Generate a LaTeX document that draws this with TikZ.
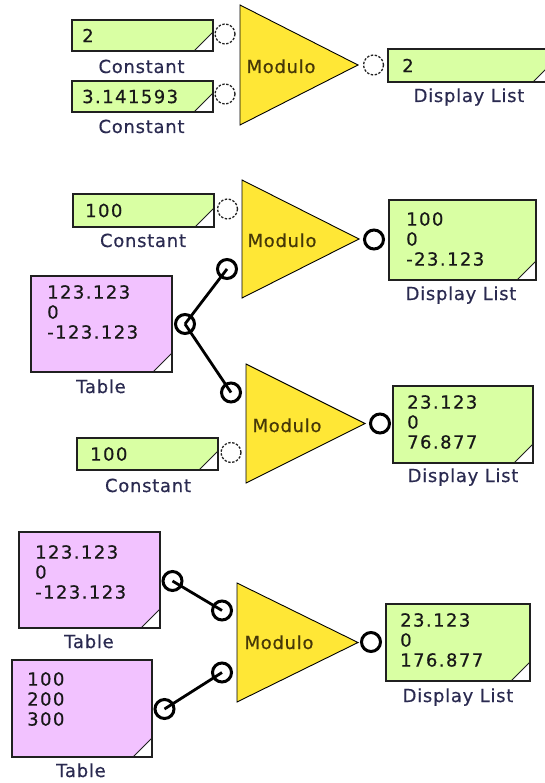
\documentclass[tikz,border=0pt]{standalone}
\usepackage{fontspec}
\setmainfont{DejaVu Sans}
\newfontfamily\lblfont[LetterSpace=4,FakeBold=0.5]{DejaVu Sans}
\newfontfamily\numfont[LetterSpace=8,FakeBold=0.5]{DejaVu Sans}
\definecolor{grn}{HTML}{D9FFA3}
\definecolor{pnk}{HTML}{F2C2FF}
\definecolor{ylw}{HTML}{FFE736}
\definecolor{boxline}{HTML}{202020}
\definecolor{lblcol}{HTML}{2A2A50}
\definecolor{modcol}{HTML}{463808}
\definecolor{numcol}{HTML}{181818}
\tikzset{
  gbox/.style={fill=grn, inner sep=0pt, outer sep=0pt},
  pbox/.style={fill=pnk, inner sep=0pt, outer sep=0pt},
  boxedge/.style={draw=boxline, line width=2pt},
  foldline/.style={draw=boxline, line width=0.9pt},
  numtxt/.style={inner sep=0pt, text=numcol, font=\numfont\fontsize{18}{20}\selectfont},
  multitxt/.style={numtxt, align=left, anchor=north west},
  lbl/.style={inner sep=0pt, anchor=base, text=lblcol, font=\lblfont\fontsize{18}{20}\selectfont},
  modtxt/.style={inner sep=0pt, anchor=base, text=modcol, font=\lblfont\fontsize{18}{20}\selectfont},
  tri/.style={draw=black, line width=0.9pt, fill=ylw},
  dport/.style={circle, draw=boxline, line width=1.3pt, dash pattern=on 2.4pt off 1.6pt, minimum size=20pt, inner sep=0pt},
  sport/.style={circle, draw=black, line width=3pt, minimum size=19pt, inner sep=0pt},
  wire/.style={draw=black, line width=2.8pt}
}
\newcommand\mkbox[6]{%
  \node[#2, minimum width=#5pt, minimum height=#6pt, anchor=north west] (#1) at (#3,#4) {};
  \fill[white] (#1.south east) -- ++(-19,0) -- ++(19,-19) -- cycle;
  \draw[foldline] (#1.south east) ++(-19,0) -- ++(19,-19);
  \draw[boxedge] (#1.north west) rectangle (#1.south east);
}
\begin{document}
\begin{tikzpicture}[x=1pt,y=-1pt]
\useasboundingbox (0,0) rectangle (545,783);
\clip (0,0) rectangle (545,783);

% ---------- Panel 1 ----------
\mkbox{c1}{gbox}{72}{20}{141}{31}
\mkbox{c2}{gbox}{72}{81}{141}{31}
\mkbox{d1}{gbox}{388}{49}{164}{33}
\node[numtxt, anchor=west] (c1t) at (82,35.5) {2};
\node[numtxt, anchor=west] (c2t) at (82,96.5) {3.141593};
\node[numtxt, anchor=west] (d1t) at (402,65.5) {2};
\node[lbl] (c1l) at (141.5,73) {Constant};
\node[lbl] (c2l) at (141.5,133) {Constant};
\node[lbl] (d1l) at (469,102) {Display List};
\coordinate (t1a) at (240,5);
\coordinate (t1b) at (358,65);
\coordinate (t1c) at (240,125);
\draw[tri] (t1a) -- (t1b) -- (t1c) -- cycle;
\node[modtxt] (m1) at (281,73) {Modulo};
\node[dport] (p1a) at (225,34) {};
\node[dport] (p1b) at (225,94) {};
\node[dport] (p1o) at (373.5,65) {};

% ---------- Panel 2 ----------
\mkbox{c3}{gbox}{73}{194}{141}{33}
\mkbox{tb1}{pbox}{31}{276}{141}{96}
\mkbox{d2}{gbox}{389}{200}{147}{80}
\node[numtxt, anchor=west] (c3t) at (85,210.5) {100};
\node[multitxt] (tb1t) at (47,285) {123.123\\0\\-123.123};
\node[multitxt] (d2t) at (406,212) {100\\0\\-23.123};
\node[lbl] (c3l) at (143,247) {Constant};
\node[lbl] (tb1l) at (101,393) {Table};
\node[lbl] (d2l) at (461,300) {Display List};
\coordinate (t2a) at (242,180);
\coordinate (t2b) at (359,239);
\coordinate (t2c) at (242,298);
\draw[tri] (t2a) -- (t2b) -- (t2c) -- cycle;
\node[modtxt] (m2) at (282,247) {Modulo};

\coordinate (t3a) at (246,364);
\coordinate (t3b) at (365,423.5);
\coordinate (t3c) at (246,483);
\draw[tri] (t3a) -- (t3b) -- (t3c) -- cycle;
\node[modtxt] (m3) at (287,432) {Modulo};

\mkbox{c4}{gbox}{77}{438}{141}{32}
\mkbox{d3}{gbox}{393}{386}{140}{77}
\node[numtxt, anchor=west] (c4t) at (90,454) {100};
\node[multitxt] (d3t) at (407,395) {23.123\\0\\76.877};
\node[lbl] (c4l) at (148,492) {Constant};
\node[lbl] (d3l) at (463,482) {Display List};

\node[dport] (p2a) at (227.5,209) {};
\node[sport] (p2b) at (227,269) {};
\node[sport] (p2o) at (374,239.5) {};
\node[sport] (tp1) at (185,324) {};
\node[sport] (p3a) at (231,392.5) {};
\node[dport] (p3b) at (231,452.5) {};
\node[sport] (p3o) at (380,423.5) {};
\draw[wire] (tp1.center) -- (p2b.center);
\draw[wire] (tp1.center) -- (p3a.center);

% ---------- Panel 4 ----------
\mkbox{tb2}{pbox}{19}{532}{141}{96}
\mkbox{tb3}{pbox}{12}{660}{140}{97}
\mkbox{d4}{gbox}{386}{604}{144}{77}
\node[multitxt] (tb2t) at (35,545) {123.123\\0\\-123.123};
\node[multitxt] (tb3t) at (27,672) {100\\200\\300};
\node[multitxt] (d4t) at (400,613) {23.123\\0\\176.877};
\node[lbl] (tb2l) at (89,648) {Table};
\node[lbl] (tb3l) at (81,777) {Table};
\node[lbl] (d4l) at (458,702) {Display List};
\coordinate (t4a) at (237,583);
\coordinate (t4b) at (358,642.5);
\coordinate (t4c) at (237,702);
\draw[tri] (t4a) -- (t4b) -- (t4c) -- cycle;
\node[modtxt] (m4) at (279,649) {Modulo};

\node[sport] (tp2) at (172.5,581) {};
\node[sport] (p4a) at (222,610.5) {};
\node[sport] (p4b) at (222,672.5) {};
\node[sport] (tp3) at (164.5,709) {};
\node[sport] (p4o) at (371,642) {};
\draw[wire] (tp2.center) -- (p4a.center);
\draw[wire] (tp3.center) -- (p4b.center);
\end{tikzpicture}
\end{document}
